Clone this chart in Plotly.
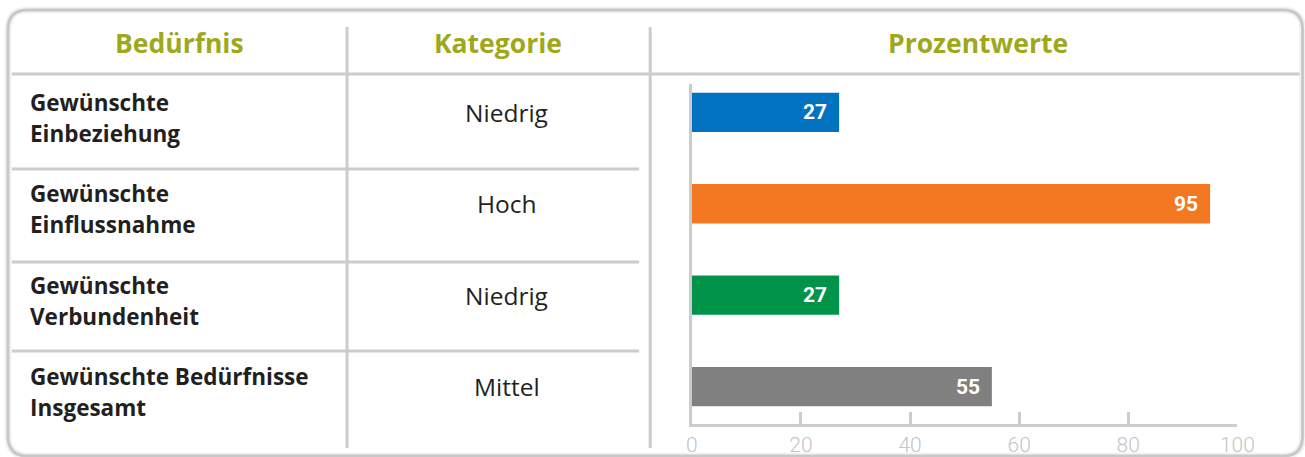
import plotly.graph_objects as go

# ---------------- data ----------------
headers = ["Bedürfnis", "Kategorie", "Prozentwerte"]
needs = [
    "Gewünschte\nEinbeziehung",
    "Gewünschte\nEinflussnahme",
    "Gewünschte\nVerbundenheit",
    "Gewünschte Bedürfnisse\nInsgesamt",
]
categories = ["Niedrig", "Hoch", "Niedrig", "Mittel"]
percent = [27, 95, 27, 55]
bar_colors = ["#0072bf", "#f47822", "#00944b", "#808080"]
x_ticks = [0, 20, 40, 60, 80, 100]

# ---------------- layout helpers ----------------
W, H = 1305, 457          # target picture size
FW = 1325                 # figure width (page px)
SX, OX = 0.979, 8.2       # observed page->picture horizontal mapping
FONT = "Open Sans"
NUMFONT = "Roboto"
GRID = "#cccccc"
OLIVE = "#9ea81a"
INK = "#231f20"


def pgx(X):
    """design (picture) x in px -> page x in px"""
    return (X - OX) / SX


def px(X):
    return pgx(X) / FW


def py(y):
    return 1 - y / H


def rounded_rect(xp0, y0, xp1, y1, r):
    # xp0/xp1 are page pixels
    rx, ry = r / FW, r / H
    X0, X1 = xp0 / FW, xp1 / FW
    Y0, Y1 = py(y0), py(y1)
    return (
        f"M {X0 + rx},{Y0} L {X1 - rx},{Y0} Q {X1},{Y0} {X1},{Y0 - ry} "
        f"L {X1},{Y1 + ry} Q {X1},{Y1} {X1 - rx},{Y1} "
        f"L {X0 + rx},{Y1} Q {X0},{Y1} {X0},{Y1 + ry} "
        f"L {X0},{Y0 - ry} Q {X0},{Y0} {X0 + rx},{Y0} Z"
    )


fig = go.Figure()
fig.add_trace(
    go.Bar(
        x=percent,
        y=needs,
        orientation="h",
        marker=dict(color=bar_colors, line=dict(width=0)),
        width=0.43,
        hoverinfo="skip",
        showlegend=False,
    )
)

frame_l = max(pgx(5), 2.0)
frame_r = min(pgx(1300), FW - 2.0)
shapes = []
shapes.append(dict(type="path", xref="paper", yref="paper",
                   path=rounded_rect(frame_l, 10, frame_r, 456, 20),
                   line=dict(color="rgba(0,0,0,0.05)", width=7), layer="below"))
shapes.append(dict(type="path", xref="paper", yref="paper",
                   path=rounded_rect(frame_l, 10, frame_r, 456, 20),
                   line=dict(color="#c8c8c8", width=3), layer="below"))
# header separator
shapes.append(dict(type="line", xref="paper", yref="paper",
                   x0=px(14), x1=px(1297), y0=py(74), y1=py(74),
                   line=dict(color=GRID, width=3)))
# row separators (table part only)
for yy in [169, 262, 351]:
    shapes.append(dict(type="line", xref="paper", yref="paper",
                       x0=px(14), x1=px(639), y0=py(yy), y1=py(yy),
                       line=dict(color=GRID, width=3)))
# column separators
for xx in [348, 650]:
    shapes.append(dict(type="line", xref="paper", yref="paper",
                       x0=px(xx), x1=px(xx), y0=py(27), y1=py(448),
                       line=dict(color=GRID, width=3)))

annotations = []
for h, cx in zip(headers, [181, 498, 977]):
    annotations.append(dict(text=h, xref="paper", yref="paper", x=px(cx), y=py(43),
                            xanchor="center", yanchor="middle", showarrow=False,
                            font=dict(family=FONT, size=26.5, color=OLIVE, weight="bold")))
LINE_GAP = 31
for name in needs:
    lines = name.split("\n")
    n = len(lines)
    for k, ln in enumerate(lines):
        off = 5.5 + (k - (n - 1) / 2) * LINE_GAP
        annotations.append(dict(text=ln, xref="paper", yref="y", x=px(30), y=name,
                                xanchor="left", yanchor="middle", yshift=-off,
                                showarrow=False,
                                font=dict(family=FONT, size=22.5, color=INK, weight="bold")))
for name, cat in zip(needs, categories):
    annotations.append(dict(text=cat, xref="paper", yref="y", x=px(507), y=name,
                            xanchor="center", yanchor="middle", showarrow=False,
                            font=dict(family=FONT, size=24.5, color=INK)))
for name, v in zip(needs, percent):
    annotations.append(dict(text=str(v), xref="x", yref="y", x=v, y=name,
                            xanchor="right", yanchor="middle", xshift=-10,
                            showarrow=False,
                            font=dict(family=NUMFONT, size=21, color="white", weight="bold")))

fig.update_layout(
    width=FW,
    height=H,
    autosize=False,
    margin=dict(l=0, r=0, t=0, b=0),
    paper_bgcolor="white",
    plot_bgcolor="rgba(0,0,0,0)",
    shapes=shapes,
    annotations=annotations,
    xaxis=dict(
        domain=[px(691.5), px(1235)],
        range=[0, 100],
        tickvals=x_ticks,
        ticks="inside",
        ticklen=12,
        tickwidth=3,
        tickcolor=GRID,
        showline=True,
        linecolor=GRID,
        linewidth=3,
        showgrid=False,
        zeroline=False,
        tickfont=dict(family=NUMFONT, size=21, color="#c4c4c4", weight=300),
        fixedrange=True,
    ),
    yaxis=dict(
        domain=[py(424), py(84)],
        type="category",
        categoryorder="array",
        categoryarray=needs,
        range=[3.41, -0.31],
        showticklabels=False,
        ticks="",
        showline=True,
        linecolor=GRID,
        linewidth=3,
        showgrid=False,
        zeroline=False,
        fixedrange=True,
    ),
)

fig.write_html(
    "out.html",
    config={"displayModeBar": False, "responsive": False},
    post_script=(
        "document.body.style.margin='0';"
        "document.documentElement.style.overflow='hidden';"
    ),
)
